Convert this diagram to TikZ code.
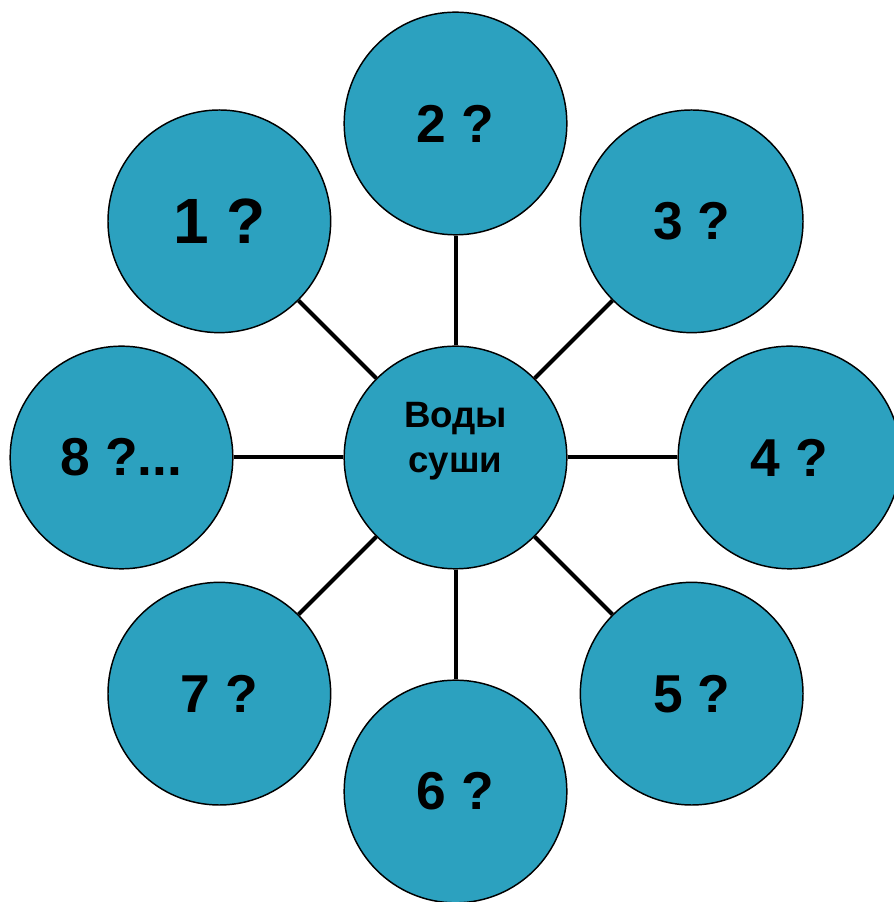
\documentclass[tikz,border=0pt]{standalone}
\usepackage{fontspec}
\setmainfont{Liberation Sans}
\usepackage{tikz}
\usetikzlibrary{calc}

\definecolor{bubblecol}{RGB}{44,161,191}

\begin{document}
\begin{tikzpicture}[x=0.75pt, y=0.75pt,
    bubble/.style={circle, draw, line width=1.1pt, fill=bubblecol, minimum size=167pt, inner sep=0pt,
      font=\bfseries\fontsize{40}{40}\selectfont},
    spoke/.style={line width=3pt}]
    \useasboundingbox (0,0) rectangle (893,902);

    % Define centre
    \coordinate (O) at (455.5,444.5);

    % Hub and the eight bubbles round it
    \node[bubble] (hub) at (O) {};
    \node[bubble, font=\bfseries\fontsize{48}{48}\selectfont] (b1) at ($(O)+(135:334)$) {1 ?};
    \node[bubble] (b2) at ($(O)+(90:334)$) {2 ?};
    \node[bubble] (b3) at ($(O)+(45:334)$) {3 ?};
    \node[bubble] (b4) at ($(O)+(0:334)$) {4 ?};
    \node[bubble] (b5) at ($(O)+(-45:334)$) {5 ?};
    \node[bubble] (b6) at ($(O)+(-90:334)$) {6 ?};
    \node[bubble] (b7) at ($(O)+(-135:334)$) {7 ?};
    \node[bubble] (b8) at ($(O)+(180:334)$) {8 ?...};

    % Hub label
    \node[align=center, font=\bfseries\fontsize{27.5}{34}\selectfont] (hubtext) at ([yshift=12]hub.center) {Воды\\суши};

    % Draw spokes
    \foreach \b in {b1,b2,b3,b4,b5,b6,b7,b8}
      \draw[spoke] (hub) -- (\b);
\end{tikzpicture}
\end{document}
